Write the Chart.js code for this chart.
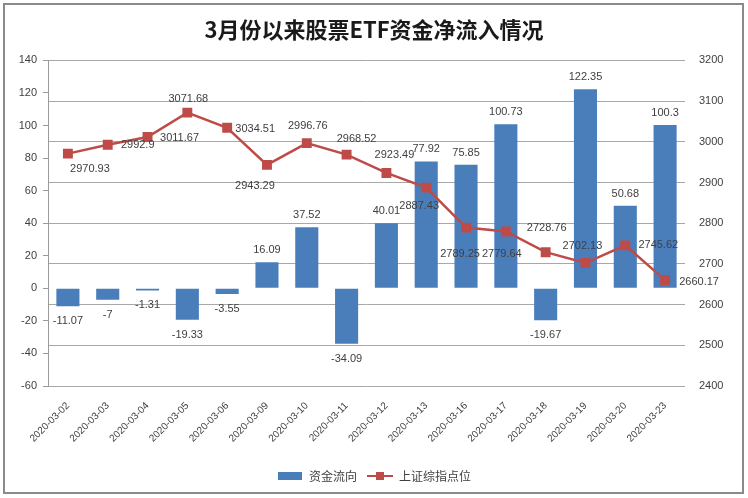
<!DOCTYPE html>
<html>
<head>
<meta charset="utf-8">
<script src="https://cdn.jsdelivr.net/npm/chart.js@4.4.1/dist/chart.umd.min.js"></script>
<style>
  html, body { margin: 0; padding: 0; background: #fff; }
  #wrap { position: relative; width: 748px; height: 498px; }
  #frame { position: absolute; left: 3px; top: 3px; width: 737px; height: 487px; border: 2px solid #8a8a8a; pointer-events: none; }
</style>
</head>
<body>
<div id="wrap">
  <canvas id="etfChart" width="748" height="498"></canvas>
  <div id="frame"></div>
</div>
<script>
// chart data
const dates = ['2020-03-02', '2020-03-03', '2020-03-04', '2020-03-05', '2020-03-06', '2020-03-09',
  '2020-03-10', '2020-03-11', '2020-03-12', '2020-03-13', '2020-03-16', '2020-03-17',
  '2020-03-18', '2020-03-19', '2020-03-20', '2020-03-23'];
const fundFlow = [-11.07, -7, -1.31, -19.33, -3.55, 16.09, 37.52, -34.09, 40.01, 77.92, 75.85, 100.73, -19.67, 122.35, 50.68, 100.3];
const shIndex = [2970.93, 2992.9, 3011.67, 3071.68, 3034.51, 2943.29, 2996.76, 2968.52, 2923.49, 2887.43, 2789.25, 2779.64, 2728.76, 2702.13, 2745.62, 2660.17];
const flowTicks = [-60, 140, 20];
const indexTicks = [2400, 3200, 100];

// where each index label sits relative to its marker (dx, dy)
const indexLabelOffset = [[22, 15], [30, 0], [32, 1], [1, -14], [28, 1], [-12, 21], [1, -17], [10, -16],
  [8, -18], [-7, 18], [-6, 26], [-4, 22], [1, -24], [-3, -17], [33, 0], [34, 2]];

const BLUE = '#4a7ebb';
const RED = '#be4b48';
const TEXT = '#404040';

// legend icons
function makeIcon(kind) {
  const c = document.createElement('canvas');
  c.width = 26; c.height = 10;
  const g = c.getContext('2d');
  if (kind === 'bar') {
    g.fillStyle = BLUE;
    g.fillRect(1, 1, 24, 8);
  } else {
    g.strokeStyle = RED;
    g.lineWidth = 2;
    g.beginPath(); g.moveTo(0, 5); g.lineTo(26, 5); g.stroke();
    g.fillStyle = RED;
    g.fillRect(9, 1, 8, 8);
  }
  return c;
}

const valueLabels = {
  id: 'valueLabels',
  afterDatasetsDraw(chart) {
    const ctx = chart.ctx;
    ctx.save();
    ctx.font = '11px "Liberation Sans", Arial, sans-serif';
    ctx.fillStyle = TEXT;
    ctx.textAlign = 'center';
    ctx.textBaseline = 'middle';
    chart.getDatasetMeta(0).data.forEach((bar, i) => {
      const v = fundFlow[i];
      ctx.fillText(String(v), bar.x, v >= 0 ? bar.y - 12 : bar.y + 15);
    });
    chart.getDatasetMeta(1).data.forEach((pt, i) => {
      const [dx, dy] = indexLabelOffset[i];
      ctx.fillText(String(shIndex[i]), pt.x + dx, pt.y + dy);
    });
    ctx.restore();
  }
};

const tickFont = { family: '"Liberation Sans", Arial, sans-serif', size: 11 };

new Chart(document.getElementById('etfChart'), {
  type: 'bar',
  data: {
    labels: dates,
    datasets: [{
      label: '资金流向',
      data: fundFlow,
      backgroundColor: BLUE,
      yAxisID: 'y',
      order: 1,
      barPercentage: 0.58,
      categoryPercentage: 1,
    }, {
      type: 'line',
      label: '上证综指点位',
      data: shIndex,
      yAxisID: 'y1',
      order: 0,
      borderColor: RED,
      backgroundColor: RED,
      borderWidth: 2.5,
      pointStyle: 'rect',
      pointRadius: 7,
      pointBorderWidth: 0,
      tension: 0,
    }],
  },
  options: {
    responsive: false,
    animation: false,
    layout: { padding: { left: 0, right: 0, top: 0, bottom: 6 } },
    plugins: {
      title: {
        display: true,
        text: '3月份以来股票ETF资金净流入情况',
        color: '#1a1a1a',
        font: { family: '"Noto Sans CJK SC", sans-serif', size: 22, weight: 'bold' },
        padding: { top: 16, bottom: 18 },
      },
      legend: {
        position: 'bottom',
        sort: (a, b) => a.datasetIndex - b.datasetIndex,
        labels: {
          usePointStyle: true,
          pointStyleWidth: 26,
          color: TEXT,
          font: { family: '"Noto Sans CJK SC", sans-serif', size: 12 },
          padding: 10,
          generateLabels(chart) {
            return chart.data.datasets.map((ds, i) => ({
              text: ds.label,
              datasetIndex: i,
              pointStyle: makeIcon(i === 0 ? 'bar' : 'line'),
              fontColor: TEXT,
              lineWidth: 0,
            }));
          },
        },
      },
      tooltip: { enabled: false },
    },
    scales: {
      x: {
        grid: { display: false },
        border: { display: false },
        ticks: { color: TEXT, font: { family: '"Liberation Sans", Arial, sans-serif', size: 10 }, minRotation: 45, maxRotation: 45, padding: 6 },
        afterFit(scale) { scale.height = 74; },
      },
      y: {
        position: 'left',
        min: flowTicks[0],
        max: flowTicks[1],
        ticks: { stepSize: flowTicks[2], color: TEXT, font: tickFont, padding: 6 },
        grid: { drawOnChartArea: false, drawTicks: true, tickLength: 5, color: '#9a9a9a' },
        border: { display: true, color: '#9a9a9a' },
        afterFit(scale) { scale.width = 48; },
      },
      y1: {
        position: 'right',
        min: indexTicks[0],
        max: indexTicks[1],
        ticks: { stepSize: indexTicks[2], color: TEXT, font: tickFont, padding: 14, callback: (v) => String(v) },
        grid: { color: '#a8a8a8', drawTicks: false },
        border: { display: false },
        afterFit(scale) { scale.width = 63; },
      },
    },
  },
  plugins: [valueLabels],
});
</script>
</body>
</html>
